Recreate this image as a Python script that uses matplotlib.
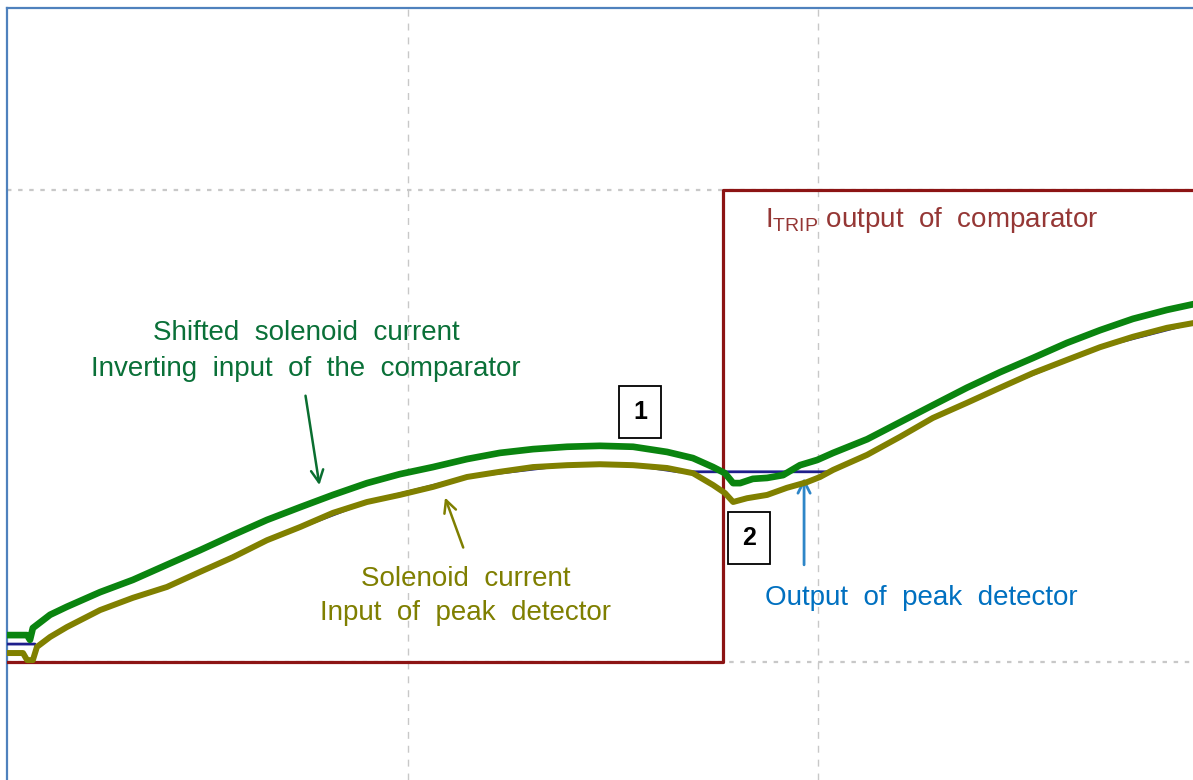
import numpy as np
import matplotlib.pyplot as plt

plt.rcParams['font.family'] = ['Liberation Sans', 'DejaVu Sans']

# time in divisions (ms), signal in divisions
green_t = [0.024, 0.071, 0.078, 0.085, 0.127, 0.168, 0.249, 0.329, 0.412, 0.493,
           0.573, 0.656, 0.737, 0.817, 0.900, 0.980, 1.061, 1.144, 1.224, 1.305,
           1.388, 1.468, 1.549, 1.632, 1.695, 1.744, 1.773, 1.793, 1.810, 1.841,
           1.876, 1.915, 1.956, 1.998, 2.037, 2.120, 2.200, 2.280, 2.363, 2.444,
           2.524, 2.607, 2.688, 2.768, 2.851, 2.915]
green_v = [0.057, 0.057, 0.047, 0.072, 0.100, 0.117, 0.148, 0.174, 0.206, 0.237,
           0.269, 0.301, 0.328, 0.354, 0.379, 0.398, 0.413, 0.430, 0.443, 0.451,
           0.456, 0.458, 0.456, 0.445, 0.432, 0.413, 0.400, 0.379, 0.379, 0.388,
           0.390, 0.396, 0.417, 0.428, 0.443, 0.472, 0.508, 0.544, 0.581, 0.614,
           0.644, 0.676, 0.703, 0.727, 0.746, 0.758]

olive_t = [0.024, 0.061, 0.071, 0.085, 0.095, 0.127, 0.168, 0.249, 0.329, 0.412,
           0.493, 0.573, 0.656, 0.737, 0.817, 0.900, 0.980, 1.061, 1.144, 1.224,
           1.305, 1.388, 1.468, 1.549, 1.632, 1.695, 1.744, 1.773, 1.793, 1.827,
           1.876, 1.924, 1.973, 2.005, 2.037, 2.120, 2.200, 2.280, 2.363, 2.444,
           2.524, 2.607, 2.688, 2.768, 2.851, 2.915]
olive_v = [0.019, 0.019, 0.004, 0.004, 0.032, 0.053, 0.074, 0.110, 0.136, 0.159,
           0.191, 0.222, 0.258, 0.286, 0.316, 0.339, 0.354, 0.371, 0.392, 0.403,
           0.413, 0.417, 0.419, 0.417, 0.411, 0.400, 0.375, 0.358, 0.339, 0.347,
           0.354, 0.369, 0.381, 0.392, 0.407, 0.439, 0.477, 0.517, 0.549, 0.581,
           0.612, 0.640, 0.667, 0.689, 0.708, 0.718]

peak_t = [0.024, 0.090, 0.095, 0.127, 0.168, 0.249, 0.412, 0.656, 0.900, 1.144,
          1.388, 1.549, 1.659, 2.024, 2.037, 2.120, 2.280, 2.444, 2.688, 2.915]
peak_v = [0.038, 0.038, 0.032, 0.053, 0.074, 0.110, 0.159, 0.258, 0.339, 0.392,
          0.417, 0.417, 0.403, 0.403, 0.407, 0.439, 0.517, 0.581, 0.667, 0.718]

trip_t = [0.020, 1.768, 1.768, 2.915]
trip_v = [0.0, 0.0, 1.0, 1.0]

fig = plt.figure(figsize=(11.93, 7.80), dpi=100)
ax = fig.add_axes([7/1193, 0, 1 - 7/1193, 772/780])
ax.set_xlim(9/410, 1195/410)
ax.set_ylim(-0.25, 654/472)

for s in ['right', 'bottom']:
    ax.spines[s].set_visible(False)
for s in ['left', 'top']:
    ax.spines[s].set_color('#4F81BD')
    ax.spines[s].set_linewidth(1.6)

ax.set_xticks([1, 2])
ax.set_yticks([0, 1])
ax.tick_params(length=0, labelbottom=False, labelleft=False)
ax.xaxis.grid(True, ls=(0, (5, 5)), color='#c8c8c8', lw=1.0)
ax.yaxis.grid(True, ls=(0, (2, 3)), color='#c8c8c8', lw=1.6)

ax.plot(trip_t, trip_v, color='#8c1414', lw=2.3, solid_joinstyle='round', zorder=3)
ax.plot(peak_t, peak_v, color='#1f1f8c', lw=2.0, zorder=4)
ax.plot(olive_t, olive_v, color='#808000', lw=4.3, zorder=5)
ax.plot(green_t, green_v, color='#0a840f', lw=4.8, zorder=6)

fs = 20
ax.text(0.751, 0.659, 'Shifted  solenoid  current\nInverting  input  of  the  comparator',
        color='#0a7038', fontsize=fs, ha='center', va='center', linespacing=1.5)
ax.annotate('', xy=(0.785, 0.369), xytext=(0.749, 0.570),
            arrowprops=dict(arrowstyle='->', color='#0a6e30', lw=1.8, mutation_scale=22))

ax.text(1.141, 0.140, 'Solenoid  current\nInput  of  peak  detector',
        color='#7f7f00', fontsize=fs, ha='center', va='center', linespacing=1.4)
ax.annotate('', xy=(1.088, 0.354), xytext=(1.137, 0.237),
            arrowprops=dict(arrowstyle='->', color='#7f7f00', lw=1.8, mutation_scale=22))

ax.text(1.871, 0.136, 'Output  of  peak  detector', color='#0070C0', fontsize=fs,
        ha='left', va='center')
ax.annotate('', xy=(1.966, 0.396), xytext=(1.966, 0.200),
            arrowprops=dict(arrowstyle='->', color='#2e86c8', lw=2.0, mutation_scale=22))

ax.text(1.871, 0.936, r'$\mathregular{I_{TRIP}}$ output  of  comparator', color='#953735',
        fontsize=fs, ha='left', va='center')

box = dict(boxstyle='square,pad=0.55', fc='white', ec='black', lw=1.3)
ax.text(1.566, 0.530, '1', fontsize=18, fontweight='bold', ha='center', va='center', bbox=box, zorder=7)
ax.text(1.832, 0.263, '2', fontsize=18, fontweight='bold', ha='center', va='center', bbox=box, zorder=7)

fig.savefig('out.png', dpi=100)
